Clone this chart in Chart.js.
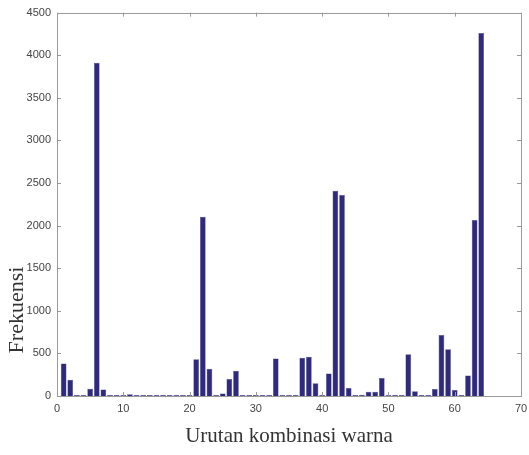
<!DOCTYPE html>
<html>
<head>
<meta charset="utf-8">
<script src="https://cdn.jsdelivr.net/npm/chart.js@4"></script>
<style>
html,body{margin:0;padding:0;background:#fff;}
#wrap{width:529px;height:455px;position:relative;}
</style>
</head>
<body>
<div id="wrap"><canvas id="c" width="529" height="455"></canvas></div>
<script>
const positions = [1,2,3,4,5,6,7,8,9,10,11,12,13,14,15,16,17,18,19,20,21,22,23,24,25,26,27,28,29,30,31,32,33,34,35,36,37,38,39,40,41,42,43,44,45,46,47,48,49,50,51,52,53,54,55,56,57,58,59,60,61,62,63,64];
const frequencies = [380,190,0,0,85,3910,75,0,0,0,20,0,0,0,0,0,10,8,0,0,430,2105,320,0,30,200,295,8,0,0,8,10,440,5,0,0,450,460,150,0,265,2410,2360,95,0,15,50,50,210,0,0,0,490,55,0,0,82,715,550,70,5,240,2065,4260];
const xTicks = [0,10,20,30,40,50,60,70];
const yTicks = [0,500,1000,1500,2000,2500,3000,3500,4000,4500];
const xTitle = 'Urutan kombinasi warna';
const yTitle = 'Frekuensi';

const points = positions.map((p,i)=>({x:p,y:frequencies[i]}));

const boxPlugin = {
  id:'box',
  afterDraw(chart){
    const {ctx, chartArea:a, scales:{x,y}} = chart;
    ctx.save();
    ctx.strokeStyle = '#9a9a9a';
    ctx.lineWidth = 1;
    ctx.strokeRect(Math.round(a.left)+0.5, Math.round(a.top)+0.5, Math.round(a.right-a.left), Math.round(a.bottom-a.top));
    const L = 4;
    ctx.beginPath();
    xTicks.forEach(v=>{
      const px = Math.round(x.getPixelForValue(v))+0.5;
      ctx.moveTo(px,a.bottom); ctx.lineTo(px,a.bottom-L);
      ctx.moveTo(px,a.top); ctx.lineTo(px,a.top+L);
    });
    yTicks.forEach(v=>{
      const py = Math.round(y.getPixelForValue(v))+0.5;
      ctx.moveTo(a.left,py); ctx.lineTo(a.left+L,py);
      ctx.moveTo(a.right,py); ctx.lineTo(a.right-L,py);
    });
    ctx.stroke();
    // y title
    ctx.translate(17, 310);
    ctx.rotate(-Math.PI/2);
    ctx.fillStyle = '#333';
    ctx.font = '22px "Liberation Serif", "DejaVu Serif", serif';
    ctx.textAlign = 'center';
    ctx.textBaseline = 'middle';
    ctx.fillText(yTitle, 0, 0);
    ctx.restore();
  }
};

new Chart(document.getElementById('c'), {
  type:'bar',
  data:{datasets:[{data:points, backgroundColor:'#2f2a7c', borderColor:'#4a4690', borderWidth:0.5, barPercentage:0.86, categoryPercentage:1, minBarLength:1}]},
  options:{
    responsive:false, animation:false,
    layout:{padding:{top:11,right:8,left:0,bottom:6}},
    plugins:{legend:{display:false}, tooltip:{enabled:false}},
    scales:{
      x:{type:'linear', min:0, max:70, offset:false,
        afterBuildTicks(s){ s.ticks = xTicks.map(v=>({value:v})); },
        afterFit(s){ s.height = 455-396-6; s.paddingRight = 0; },
        grid:{display:false, drawTicks:false}, border:{display:false},
        ticks:{color:'#444', font:{size:11, family:'"Liberation Sans", Arial, sans-serif'}, padding:6, maxRotation:0, callback:v=>String(v)},
        title:{display:true, text:xTitle, color:'#333', font:{size:21, family:'"Liberation Serif", "DejaVu Serif", serif'}, padding:{top:4,bottom:0}}
      },
      y:{min:0, max:4500,
        afterBuildTicks(s){ s.ticks = yTicks.map(v=>({value:v})); },
        afterFit(s){ s.width = 57; },
        grid:{display:false, drawTicks:false}, border:{display:false},
        ticks:{color:'#444', font:{size:11, family:'"Liberation Sans", Arial, sans-serif'}, padding:6, callback:v=>String(v)}
      }
    }
  },
  plugins:[boxPlugin]
});
</script>
</body>
</html>
